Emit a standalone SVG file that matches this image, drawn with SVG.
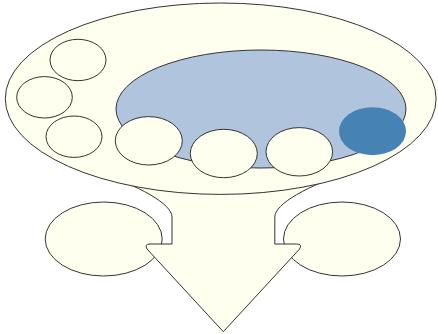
<svg xmlns="http://www.w3.org/2000/svg" width="438" height="334" viewBox="0 0 438 334">
<style>
.c{fill:#FFFFF0;stroke:#333;stroke-width:1}
.b{fill:#B0C4DE;stroke:#333;stroke-width:1}
.d{fill:#4682B4;stroke:none}
</style>
<rect width="438" height="334" fill="#fff"/>
<g id="left-outcome"><ellipse class="c" cx="103.7" cy="239" rx="58.5" ry="37"/></g>
<g id="right-outcome"><ellipse class="c" cx="342" cy="239" rx="58.5" ry="37"/></g>
<g id="connectors">
<path id="funnel-arrow" class="c" d="M92,170 C140,186 172,204 172,217 L172,244 L150,244 Q144,244 147,249 L223.3,331.7 L299.6,249 Q302.6,244 296.6,244 L274.8,244 L274.8,217 C274.8,204 306.6,186 354.6,170 Z"/>
</g>
<g id="outer"><ellipse class="c" cx="220.7" cy="98.7" rx="215.4" ry="95.7"/></g>
<g id="inner"><ellipse class="b" cx="261" cy="109" rx="145" ry="59"/></g>
<g id="n1"><ellipse class="c" cx="78" cy="60" rx="28" ry="20.7"/></g>
<g id="n2"><ellipse class="c" cx="44.5" cy="97.3" rx="27.8" ry="20.7"/></g>
<g id="n3"><ellipse class="c" cx="74" cy="136.7" rx="28" ry="20.7"/></g>
<g id="n4"><ellipse class="c" cx="148.8" cy="140.8" rx="33.5" ry="24.2"/></g>
<g id="n5"><ellipse class="c" cx="223.8" cy="153.5" rx="33.5" ry="24.2"/></g>
<g id="n6"><ellipse class="c" cx="299.3" cy="151.8" rx="33.3" ry="24.2"/></g>
<g id="n7"><ellipse class="d" cx="372.5" cy="131.2" rx="33.5" ry="24"/></g>
</svg>
